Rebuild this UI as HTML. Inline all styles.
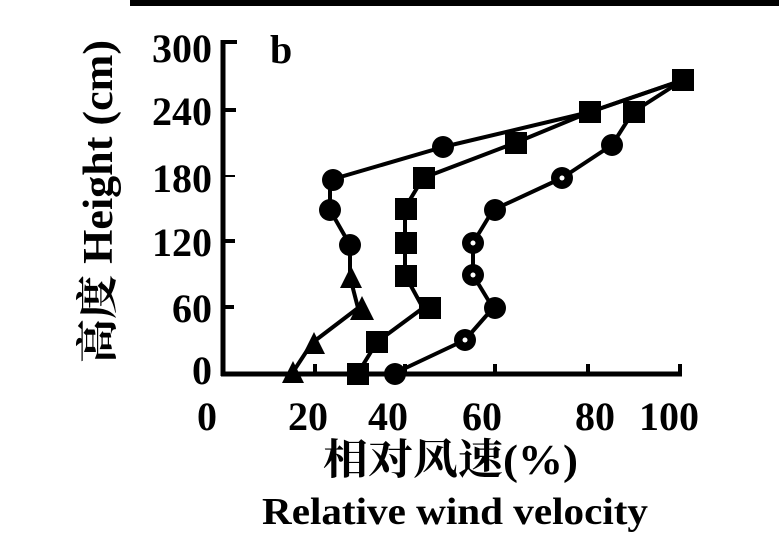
<!DOCTYPE html>
<html><head><meta charset="utf-8"><style>
html,body{margin:0;padding:0;background:#fff;}
svg{display:block;}
text{font-family:"Liberation Serif","Noto Serif CJK SC",serif;font-weight:bold;fill:#000;}
</style></head><body>
<svg width="779" height="560" viewBox="0 0 779 560" xmlns="http://www.w3.org/2000/svg">
<rect x="130" y="0" width="649" height="6" fill="#000"/>
<!-- axes -->
<line x1="223" y1="40" x2="223" y2="376" stroke="#000" stroke-width="5"/>
<line x1="221" y1="374" x2="682" y2="374" stroke="#000" stroke-width="5"/>
<g stroke="#000" stroke-width="4">
<line x1="223" y1="42" x2="237" y2="42"/>
<line x1="223" y1="110" x2="236" y2="110"/>
<line x1="223" y1="176" x2="235" y2="176" stroke-width="2"/>
<line x1="223" y1="241" x2="235" y2="241"/>
<line x1="223" y1="307" x2="234" y2="307"/>
<line x1="315" y1="374" x2="315" y2="364"/>
<line x1="405" y1="374" x2="405" y2="364"/>
<line x1="495" y1="374" x2="495" y2="364"/>
<line x1="588" y1="374" x2="588" y2="364"/>
<line x1="680" y1="374" x2="680" y2="364"/>
</g>
<!-- y labels -->
<g font-size="40" text-anchor="end">
<text x="212" y="62">300</text>
<text x="212" y="125">240</text>
<text x="212" y="192">180</text>
<text x="212" y="256">120</text>
<text x="212" y="322">60</text>
<text x="212" y="384">0</text>
</g>
<!-- x labels -->
<g font-size="40" text-anchor="middle">
<text x="207" y="430">0</text>
<text x="308" y="430">20</text>
<text x="388" y="430">40</text>
<text x="482" y="430">60</text>
<text x="595" y="430">80</text>
<text x="669" y="430">100</text>
</g>
<text x="323" y="474" font-size="42" textLength="255" lengthAdjust="spacingAndGlyphs">相对风速(%)</text>
<text x="262" y="524" font-size="38" textLength="386" lengthAdjust="spacingAndGlyphs">Relative wind velocity</text>
<text transform="translate(112,363) rotate(-90)" font-size="42" textLength="323" lengthAdjust="spacingAndGlyphs">高度 Height (cm)</text>
<text x="270" y="63" font-size="40">b</text>
<!-- series lines -->
<g fill="none" stroke="#000" stroke-width="4" stroke-linejoin="round">
<polyline points="293,372 312,343 358,308 350,277 350,245 330,210 330,180 443,147 590,112 683,80"/>
<polyline points="358,373 377,342 423,308 405,275 405,242 405,208 423,178 515,143 590,112 683,80"/>
<polyline points="395,373 465,340 493,308 473,275 473,243 493,210 562,178 612,145 633,112 683,80"/>
</g>
<!-- markers -->
<g fill="#000">
<polygon points="293,361 304,383 282,383"/>
<polygon points="314,332 325,354 303,354"/>
<polygon points="362,296 374,320 350,320"/>
<polygon points="351,266 362,288 340,288"/>
<circle cx="350" cy="245" r="11"/>
<circle cx="330" cy="210" r="11"/>
<circle cx="333" cy="180" r="11"/>
<circle cx="443" cy="147" r="11"/>
<rect x="347" y="363" width="22" height="22"/>
<rect x="366" y="331" width="22" height="22"/>
<rect x="419" y="297" width="22" height="22"/>
<rect x="395" y="265" width="22" height="22"/>
<rect x="395" y="232" width="22" height="22"/>
<rect x="395" y="198" width="22" height="22"/>
<rect x="413" y="167" width="22" height="22"/>
<rect x="505" y="132" width="22" height="22"/>
<rect x="579" y="101" width="22" height="22"/>
<rect x="672" y="69" width="22" height="22"/>
<circle cx="395" cy="374" r="11"/>
<circle cx="465" cy="340" r="11"/>
<circle cx="495" cy="308" r="11"/>
<circle cx="473" cy="275" r="11"/>
<circle cx="473" cy="243" r="11"/>
<circle cx="495" cy="210" r="11"/>
<circle cx="562" cy="178" r="11"/>
<circle cx="612" cy="145" r="11"/>
<rect x="623" y="101" width="22" height="22"/>
</g>
<g fill="#fff">
<circle cx="465" cy="340" r="2.5"/>
<circle cx="473" cy="275" r="2.5"/>
<circle cx="473" cy="243" r="2.5"/>
<circle cx="562" cy="178" r="2.5"/>
</g>
</svg>
</body></html>
